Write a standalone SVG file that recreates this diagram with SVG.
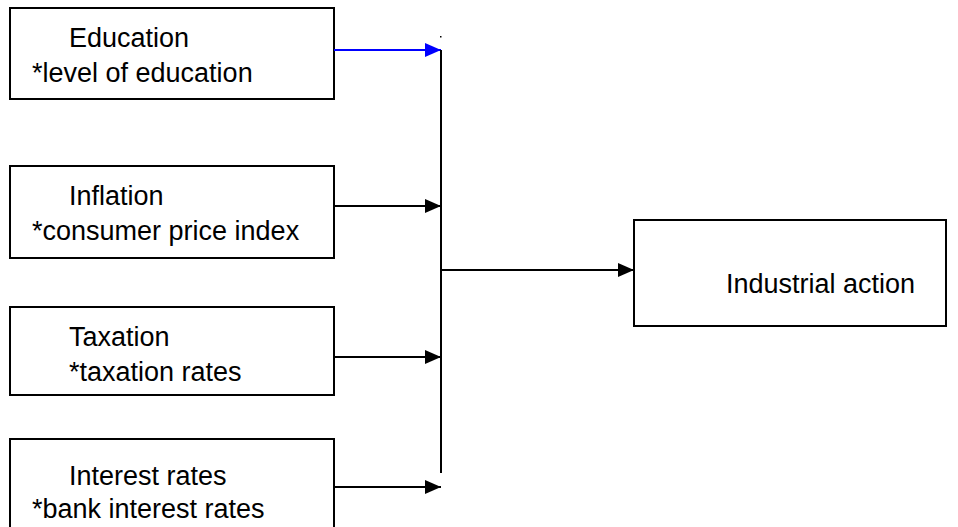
<svg xmlns="http://www.w3.org/2000/svg" width="958" height="527" viewBox="0 0 958 527">
<style>
.box{fill:#fff;stroke:#000;stroke-width:2}
.t{font-family:"Liberation Sans",Arial,sans-serif;font-size:27px;fill:#000}
.c{stroke:#000;stroke-width:2;fill:none}
.cb{stroke:#0000ff;stroke-width:2;fill:none}
</style>
<defs>
<marker id="ah" viewBox="0 0 16 14" refX="16" refY="7" markerWidth="16" markerHeight="14" markerUnits="userSpaceOnUse" orient="auto"><path d="M0,0 L16,7 L0,14 Z" fill="#000"/></marker>
<marker id="ahb" viewBox="0 0 16 14" refX="16" refY="7" markerWidth="16" markerHeight="14" markerUnits="userSpaceOnUse" orient="auto"><path d="M0,0 L16,7 L0,14 Z" fill="#0000ff"/></marker>
</defs>
<g id="education"><rect class="box" x="10" y="8" width="324" height="91"/><text class="t" x="69" y="47">Education</text><text class="t" x="32" y="82">*level of education</text></g>
<g id="inflation"><rect class="box" x="10" y="166" width="324" height="92"/><text class="t" x="69" y="205">Inflation</text><text class="t" x="32" y="240">*consumer price index</text></g>
<g id="taxation"><rect class="box" x="10" y="307" width="324" height="88"/><text class="t" x="69" y="346">Taxation</text><text class="t" x="69" y="381">*taxation rates</text></g>
<g id="interest"><rect class="box" x="10" y="439" width="324" height="110"/><text class="t" x="69" y="485">Interest rates</text><text class="t" x="32" y="518">*bank interest rates</text></g>
<g id="industrial"><rect class="box" x="634" y="220" width="312" height="106"/><text class="t" x="726" y="293">Industrial action</text></g>
<g id="connectors">
<path class="cb" d="M334,50 H441" marker-end="url(#ahb)"/>
<path class="c" d="M441,50 V473"/>
<rect x="440" y="36" width="1.5" height="1.5" fill="#000"/>
<path class="c" d="M334,206 H441" marker-end="url(#ah)"/>
<path class="c" d="M334,357 H441" marker-end="url(#ah)"/>
<path class="c" d="M334,487 H441" marker-end="url(#ah)"/>
<path class="c" d="M441,270 H634" marker-end="url(#ah)"/>
</g>
</svg>
